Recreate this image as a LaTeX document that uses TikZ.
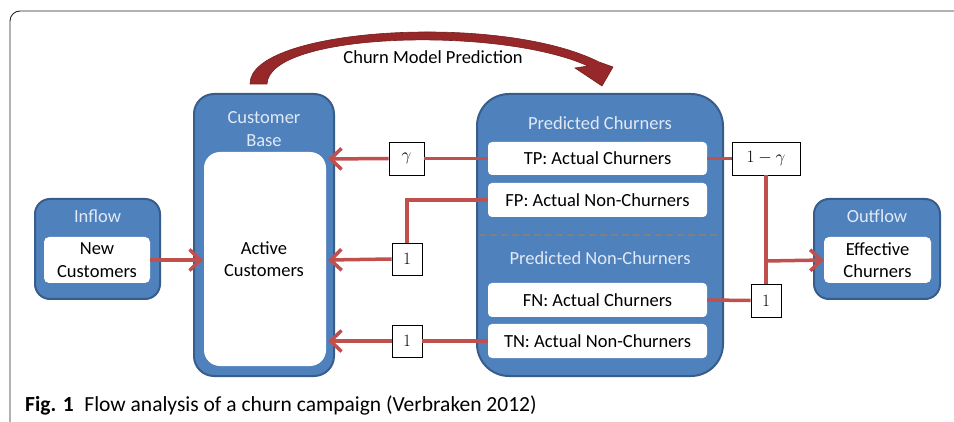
\documentclass[tikz,border=0pt]{standalone}
\usepackage{fontspec}
\setmainfont{Carlito}
\usetikzlibrary{arrows.meta}
\definecolor{bluefill}{RGB}{79,129,189}
\definecolor{blueline}{RGB}{56,93,138}
\definecolor{redline}{RGB}{192,80,77}
\definecolor{darkred}{RGB}{150,40,42}
\definecolor{darkredline}{RGB}{120,30,30}
\definecolor{lighttext}{RGB}{225,233,245}
\definecolor{dashgrey}{RGB}{128,128,128}
\begin{document}
\begin{tikzpicture}[x=1pt,y=-1pt,
  bluebox/.style={draw=blueline,line width=2pt,fill=bluefill},
  whitebox/.style={fill=white,draw=none},
  flow/.style={draw=redline,line width=3.5pt},
  flowarrow/.style={draw=redline,line width=3.5pt,-{Straight Barb[length=11pt,width=21pt,line width=3.5pt]}},
  factor/.style={draw=black,line width=0.8pt,fill=white,inner sep=0pt,minimum height=33pt,font=\fontsize{19}{22}\selectfont},
  headtext/.style={text=lighttext,font=\fontsize{18.5}{22.5}\selectfont,align=center},
  boxtext/.style={text=black,font=\fontsize{18.5}{22.5}\selectfont,align=center}]
\useasboundingbox (0,0) rectangle (954,422);
\clip (0,0) rectangle (954,422);
% outer frame
\draw[black!85,line width=0.9pt,rounded corners=10pt] (10,11) rectangle (980,450);

% top curved arrow
\fill[darkred,draw=darkredline,line width=0.6pt]
  (250,84) .. controls (249,28) and (500,12) .. (599,62)
  -- (613,67) -- (602,86) -- (575,68) -- (588,66)
  .. controls (500,26) and (269,32) .. (267,84) -- cycle;
\node[boxtext] (cmp) at (433,57) {Churn Model Prediction};

% customer base
\draw[bluebox,rounded corners=20pt] (194,94) rectangle (334,376);
\fill[white,rounded corners=16pt] (204,152) rectangle (326,366);
\node[headtext] (cbase) at (264,129) {Customer\\Base};
\coordinate (cbR1) at (328,159);
\coordinate (cbR2) at (328,260);
\coordinate (cbR3) at (328,341);
\coordinate (cbL) at (203,260);
\node[boxtext] (active) at (264,259) {Active\\Customers};

% inflow
\draw[bluebox,rounded corners=15pt] (35,199) rectangle (160,299);
\node[headtext] (inflow) at (97.5,216) {Inflow};
\node[whitebox,rounded corners=5pt,minimum width=106pt,minimum height=46pt,boxtext] (newc) at (97,260) {New\\Customers};

% predicted box
\draw[bluebox,rounded corners=32pt] (477,94) rectangle (723,376);
\draw[dashgrey,line width=2pt,dash pattern=on 7pt off 4pt] (479,235) -- (721,235);
\node[headtext] (pc) at (600,123) {Predicted Churners};
\node[headtext] (pnc) at (600,258) {Predicted Non-Churners};
\node[whitebox,rounded corners=4pt,minimum width=219pt,minimum height=33pt,boxtext] (tp) at (597.5,158.5) {TP: Actual Churners};
\node[whitebox,rounded corners=4pt,minimum width=219pt,minimum height=34pt,boxtext] (fp) at (597.5,200) {FP: Actual Non-Churners};
\node[whitebox,rounded corners=4pt,minimum width=219pt,minimum height=34pt,boxtext] (fn) at (597.5,300) {FN: Actual Churners};
\node[whitebox,rounded corners=4pt,minimum width=219pt,minimum height=34pt,boxtext] (tn) at (597.5,341) {TN: Actual Non-Churners};

% outflow
\draw[bluebox,rounded corners=15pt] (814,199) rectangle (940,299);
\node[headtext] (outflow) at (877,216) {Outflow};
\node[whitebox,rounded corners=5pt,minimum width=107pt,minimum height=46pt,boxtext] (eff) at (877.5,260) {Effective\\Churners};

% factor boxes
\node[factor,minimum width=35pt] (g) at (406.5,158.5) {$\gamma$};
\node[factor,minimum width=68pt] (omg) at (766,158.5) {$1-\gamma$};
\node[factor,minimum width=30pt,minimum height=32pt] (one1) at (407,259) {$1$};
\node[factor,minimum width=30pt,minimum height=32pt] (one2) at (407,341) {$1$};
\node[factor,minimum width=30pt] (one3) at (766,300.5) {$1$};

% connectors
\draw[flowarrow] (newc.east) -- (cbL);
\draw[flow] (tp.west) -- (g.east);
\draw[flowarrow] (g.west) -- (cbR1);
\draw[flow] (fp.west) -| (one1.north);
\draw[flowarrow] (one1.west) -- (cbR2);
\draw[flow] (tn.west) -- (one2.east);
\draw[flowarrow] (one2.west) -- (cbR3);
\draw[flow] (tp.east) -- (omg.west);
\draw[flow] (fn.east) -- (one3.west);
\draw[flow] (omg.south) -- (one3.north);
\coordinate (branch) at (766,261);
\draw[flowarrow] (branch) -- (eff.west);

% caption
\node[anchor=base west,inner sep=0pt,font=\fontsize{21.5}{24}\selectfont] (cap) at (25,411)
  {\textbf{Fig. 1}\hspace{0.5em}Flow analysis of a churn campaign (Verbraken 2012)};
\end{tikzpicture}
\end{document}
